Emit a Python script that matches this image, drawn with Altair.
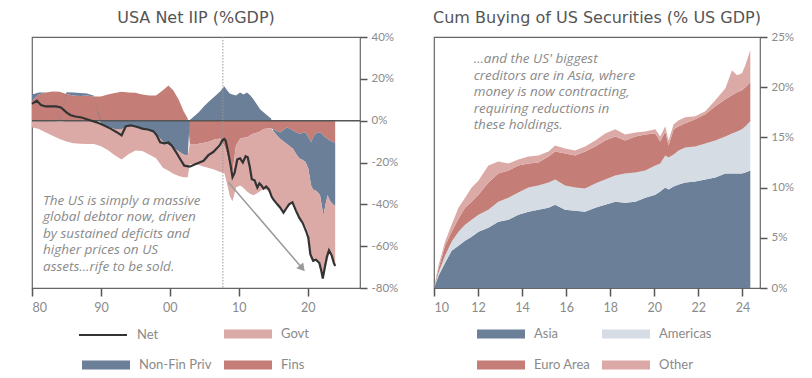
import altair as alt
import pandas as pd

# ---------------- Left panel: USA Net IIP (% GDP) ----------------
comp_years = [1980.0, 1981.0, 1982.0, 1983.0, 1984.0, 1985.0, 1986.0, 1987.0, 1988.0, 1989.0,
              1990.0, 1991.0, 1992.0, 1993.0, 1994.0, 1995.0, 1996.0, 1997.0, 1998.0, 1999.0,
              1999.8, 2000.5, 2001.3, 2002.0, 2002.6, 2002.9,
              2003.5, 2004.2, 2005.0, 2005.8, 2006.5, 2007.3, 2007.9,
              2008.3, 2008.7, 2009.1, 2009.6,
              2010.2, 2010.7, 2011.2, 2011.7,
              2012.1, 2012.6, 2013.1, 2013.6,
              2014.2, 2014.7, 2015.0, 2015.5,
              2016.0, 2016.5, 2017.0, 2017.5, 2017.9,
              2018.4, 2018.9, 2019.3, 2019.7,
              2020.1, 2020.5, 2020.8,
              2021.1, 2021.5, 2021.8,
              2022.1, 2022.3, 2022.6, 2022.9,
              2023.2, 2023.5, 2023.8, 2024.0]

fins = [9.5, 12.5, 13.5, 14.0, 13.8, 12.8, 12.0, 11.8, 12.0, 11.6,
        11.5, 12.5, 13.2, 13.8, 13.5, 13.3, 12.5, 12.0, 12.0, 14.5,
        16.8, 14.5, 10.0, 4.5, 1.0, -11.0,
        -11.5, -11.0, -10.5, -10.0, -9.0, -8.5, -12.0,
        -16.0, -22.0, -24.5, -12.0,
        -8.7, -8.2, -7.9, -7.0,
        -6.3, -5.8, -5.2, -4.0,
        -3.7, -3.8, -4.0, -4.8,
        -5.6, -4.5, -3.2, -4.0, -4.8,
        -5.8, -6.3, -5.8, -5.6,
        -7.9, -10.3, -8.0,
        -6.3, -5.8, -5.6,
        -6.5, -7.1, -8.0, -8.7,
        -9.5, -10.0, -10.3, -10.3]

nonfin = [3.0, 1.0, 0.0, 0.0, -0.6, 0.8, 1.5, 1.4, 1.0, 0.3,
          -1.5, -3.0, -4.0, -4.0, -3.0, -2.8, -3.5, -5.0, -6.5, -10.0,
          -11.8, -13.0, -14.7, -16.2, -16.8, 0.3,
          2.0, 4.0, 7.0, 9.5, 11.5, 14.0, 16.5,
          14.5, 13.0, 12.5, 12.0,
          13.5, 12.5, 13.5, 12.0,
          10.3, 8.0, 5.5, 4.0,
          2.4, 1.0, -0.8, -2.0,
          -3.1, -5.5, -7.9, -8.5, -8.7,
          -10.5, -12.0, -13.0, -14.2,
          -15.1, -20.7, -25.0,
          -27.0, -28.5, -30.1,
          -35.0, -38.1, -32.0, -27.0,
          -28.6, -29.4, -30.0, -30.5]

govt = [-3.2, -4.0, -5.6, -7.2, -8.2, -10.0, -10.8, -11.0, -11.1, -11.1,
        -10.7, -11.0, -12.5, -14.6, -13.0, -11.5, -11.0, -11.2, -11.5, -12.5,
        -12.2, -12.4, -11.8, -10.8, -10.2, -9.8,
        -9.3, -10.2, -11.5, -12.7, -14.5, -16.0, -13.0,
        -14.0, -14.0, -14.0, -20.0,
        -22.3, -24.0, -26.0, -28.0,
        -29.4, -29.0, -28.5, -28.5,
        -29.6, -32.0, -32.5, -32.5,
        -32.6, -33.0, -30.9, -27.5, -25.4,
        -27.0, -28.5, -29.5, -30.5,
        -31.0, -33.0, -33.5,
        -33.4, -32.5, -31.8,
        -30.5, -29.4, -30.5, -31.0,
        -24.5, -25.0, -27.0, -28.2]

net_years = [1980.0, 1980.7, 1981.3, 1982.0, 1983.5, 1984.2, 1985.0, 1985.6, 1986.3, 1987.2,
             1988.3, 1989.4, 1990.4, 1991.4, 1992.3, 1993.0, 1993.6, 1994.3, 1995.3, 1996.0,
             1996.8, 1997.6, 1998.1, 1998.6, 1999.2, 1999.8, 2000.3, 2000.9, 2001.5, 2002.1,
             2002.9, 2003.6, 2004.3, 2004.9, 2005.6, 2006.3, 2006.9, 2007.3, 2007.6, 2007.9,
             2008.1, 2008.4, 2008.8, 2009.1, 2009.4, 2009.8, 2010.2, 2010.6, 2011.0, 2011.3,
             2011.6, 2011.9, 2012.3, 2012.7, 2013.0, 2013.3, 2013.6, 2014.0, 2014.4, 2014.8,
             2015.1, 2015.6, 2016.0, 2016.5, 2016.9, 2017.3, 2017.8, 2018.3, 2018.8, 2019.3,
             2019.8, 2020.1, 2020.4, 2020.8, 2021.2, 2021.7, 2022.0, 2022.2, 2022.5, 2022.8,
             2023.1, 2023.5, 2023.8, 2024.0]
net_vals = [8.0, 9.6, 7.5, 6.8, 6.8, 6.3, 4.0, 2.6, 2.0, 1.5,
            0.3, -0.8, -2.2, -3.8, -5.5, -7.0, -2.8, -2.2, -3.0, -3.8,
            -4.2, -5.0, -7.0, -10.3, -10.8, -10.4, -12.0, -15.0, -18.3, -21.5,
            -22.0, -21.0, -20.0, -19.2, -16.5, -15.0, -13.0, -11.5, -9.5, -8.8,
            -9.5, -14.0, -21.0, -27.0, -25.0, -18.5, -18.0, -20.0, -17.0, -17.5,
            -22.0, -28.0, -28.5, -32.0, -30.0, -31.0, -32.5, -31.5, -33.0, -36.5,
            -38.0, -40.0, -41.5, -44.0, -42.0, -40.0, -39.0, -43.0, -46.5, -49.0,
            -53.0, -56.0, -64.0, -67.0, -66.5, -68.0, -72.0, -75.5, -70.0, -65.0,
            -62.0, -64.5, -68.0, -69.5]

left_series = ["Fins", "Non-Fin Priv", "Govt"]
left_legend_order = ["Net", "Govt", "Non-Fin Priv", "Fins"]
left_colors = ["rgba(0,0,0,0)", "#dcaaa6", "#6b7f99", "#c47e77"]
left_ticks = [1980, 1990, 2000, 2010, 2020]
left_yticks = [-80, -60, -40, -20, 0, 20, 40]
crisis_year = [2007.7]
left_note = ("The US is simply a massive\nglobal debtor now, driven\nby sustained deficits and\n"
             "higher prices on US\nassets\u2026rife to be sold.")

# ---------------- Right panel: Cum buying of US securities ----------------
cb_years = [2010.00, 2010.20, 2010.50, 2010.80, 2011.11, 2011.41, 2011.71, 2012.02, 2012.47, 2012.92,
            2013.38, 2013.83, 2014.29, 2014.74, 2015.20, 2015.50, 2015.95, 2016.41, 2016.86, 2017.32,
            2017.77, 2018.23, 2018.68, 2019.14, 2019.59, 2020.05, 2020.27, 2020.50, 2020.65, 2020.88,
            2021.11, 2021.41, 2021.86, 2022.32, 2022.77, 2023.23, 2023.53, 2023.76, 2023.98, 2024.14,
            2024.36]
asia = [0.0, 1.2, 2.5, 3.7, 4.2, 4.7, 5.1, 5.6, 6.0, 6.6,
        6.8, 7.3, 7.6, 7.8, 8.0, 8.3, 7.8, 7.7, 7.6, 8.0,
        8.3, 8.6, 8.5, 8.6, 9.0, 9.3, 9.6, 10.0, 9.8, 10.1,
        10.3, 10.5, 10.6, 10.8, 11.0, 11.4, 11.4, 11.4, 11.4, 11.5,
        11.7]
americas = [0.0, 0.3, 0.7, 0.9, 1.4, 1.6, 1.7, 1.7, 1.8, 2.0,
            2.2, 2.2, 2.4, 2.4, 2.5, 2.5, 2.4, 2.3, 2.3, 2.4,
            2.5, 2.6, 2.9, 2.9, 2.7, 2.9, 2.8, 3.2, 3.2, 3.2,
            3.4, 3.5, 3.5, 3.6, 3.7, 3.7, 4.0, 4.2, 4.4, 4.6,
            4.9]
euro = [0.0, 0.4, 1.0, 1.0, 1.3, 1.7, 1.8, 2.0, 2.7, 2.8,
        2.7, 2.7, 2.4, 2.3, 2.6, 2.8, 3.2, 3.2, 3.7, 3.7,
        3.9, 3.9, 3.3, 3.6, 3.6, 3.2, 2.2, 2.4, 1.2, 2.5,
        2.4, 2.4, 2.7, 2.9, 3.4, 3.7, 3.8, 3.9, 3.9, 3.9,
        3.9]
other = [0.0, 0.3, 0.4, 0.7, 1.1, 1.0, 1.4, 1.4, 1.7, 1.2,
         0.7, 0.6, 0.7, 0.7, 0.5, 0.6, 0.5, 0.5, 0.5, 0.6,
         0.7, 0.7, 0.6, 0.4, 0.3, 0.4, 0.5, 0.5, 0.5, 0.5,
         0.6, 0.6, 0.3, 0.3, 0.6, 1.1, 2.5, 1.7, 1.7, 2.2,
         3.2]
right_series = ["Asia", "Americas", "Euro Area", "Other"]
right_colors = ["#6b7f99", "#d5dce3", "#c47e77", "#dcaaa6"]
right_ticks = [2010, 2012, 2014, 2016, 2018, 2020, 2022, 2024]
right_yticks = [0, 5, 10, 15, 20, 25]
right_note = ("\u2026and the US' biggest\ncreditors are in Asia, where\nmoney is now contracting,\n"
              "requiring reductions in\nthese holdings.")

# ---------------- styling ----------------
RECT = "M-1,-0.19H1V0.19H-1Z"
LBL = "#8a8a8a"
FONT = "Lato"
NOTE_FONT = "Open Sans"
TITLE_FONT = "DejaVu Sans"
YEAR_LABEL = "substring(toString(datum.value), 2, 4)"
PCT_LABEL = "datum.value + '%'"


def legend(**kw):
    base = dict(orient="none", title=None, padding=0, labelFont=FONT, labelFontSize=13,
                labelColor=LBL, labelOffset=9, symbolSize=2304, legendX=50, legendY=273,
                direction="horizontal")
    base.update(kw)
    return alt.Legend(**base)


# ----- left chart -----
n = len(comp_years)
comp_df = pd.DataFrame({
    "year": comp_years * 3,
    "series": ["Fins"] * n + ["Non-Fin Priv"] * n + ["Govt"] * n,
    "value": fins + nonfin + govt,
    "rank": [0] * n + [1] * n + [2] * n,
})
net_df = pd.DataFrame({"year": net_years, "value": net_vals, "series": ["Net"] * len(net_years)})

lx = alt.X("year:Q", title=None,
           scale=alt.Scale(domain=[1980, 2027.6], nice=False, zero=False),
           axis=alt.Axis(values=left_ticks, labelExpr=YEAR_LABEL, tickSize=8, labelFontSize=12.5,
                         labelPadding=5))
ly = alt.Y("value:Q", title=None, stack="zero",
           scale=alt.Scale(domain=[-80, 40], nice=False),
           axis=alt.Axis(orient="right", values=left_yticks, labelExpr=PCT_LABEL, tickSize=7,
                         labelFontSize=11.5, labelPadding=4))

left_areas = alt.Chart(comp_df).mark_area().encode(
    x=lx, y=ly,
    fill=alt.Fill("series:N", scale=alt.Scale(domain=left_legend_order, range=left_colors),
                  legend=legend(columns=2, columnPadding=12, rowPadding=0, symbolType=RECT,
                                symbolStrokeWidth=0,
                                labelExpr="datum.label == 'Net' ? '' : datum.label")),
    detail="series:N",
    order=alt.Order("rank:Q"),
)

zero_rule = alt.Chart(pd.DataFrame({"v": [0]})).mark_rule(color="#555", strokeWidth=1.5).encode(
    y=alt.Y("v:Q"))
crisis_rule = alt.Chart(pd.DataFrame({"yr": crisis_year})).mark_rule(
    color="#999", strokeWidth=1, strokeDash=[1.5, 1.5]).encode(x=alt.X("yr:Q"))

net_line = alt.Chart(net_df).mark_line(strokeWidth=2.2).encode(
    x=alt.X("year:Q"), y=alt.Y("value:Q"),
    stroke=alt.Stroke("series:N", scale=alt.Scale(domain=["Net"], range=["#333333"]),
                      legend=legend(symbolType="stroke", symbolStrokeWidth=2, legendX=46)),
)

arrow_df = pd.DataFrame({"x": [2008.5], "y": [-29.4], "x2": [2019.1], "y2": [-70.1]})
arrow = alt.Chart(arrow_df).mark_rule(color="#9a9a9a", strokeWidth=1.5).encode(
    x="x:Q", y="y:Q", x2="x2:Q", y2="y2:Q")
arrow_head = alt.Chart(arrow_df).mark_point(shape="triangle", filled=True, size=80, angle=140,
                                            color="#9a9a9a", opacity=1).encode(
    x="x2:Q", y="y2:Q")

left_text = alt.Chart(pd.DataFrame({"x": [1981.6], "y": [-35.0], "t": [left_note]})).mark_text(
    lineBreak="\n", align="left", baseline="top", font=NOTE_FONT, fontStyle="italic", fontSize=13.5,
    color="#8a8a8a", lineHeight=16.5).encode(x="x:Q", y="y:Q", text="t:N")

left = alt.layer(left_areas, zero_rule, crisis_rule, arrow, arrow_head, net_line, left_text).properties(
    width=328, height=251,
    title=alt.TitleParams("USA Net IIP (%GDP)", font=TITLE_FONT, fontSize=16, fontWeight="normal",
                          color="#555", offset=5, anchor="middle"),
)

# ----- right chart -----
m = len(cb_years)
cb_df = pd.DataFrame({
    "year": cb_years * 4,
    "series": ["Asia"] * m + ["Americas"] * m + ["Euro Area"] * m + ["Other"] * m,
    "value": asia + americas + euro + other,
    "rank": [0] * m + [1] * m + [2] * m + [3] * m,
})

rx = alt.X("year:Q", title=None,
           scale=alt.Scale(domain=[2010, 2024.8], nice=False, zero=False),
           axis=alt.Axis(values=right_ticks, labelExpr=YEAR_LABEL, tickSize=8, labelFontSize=12.5,
                         labelPadding=5))
ry = alt.Y("value:Q", title=None, stack="zero",
           scale=alt.Scale(domain=[0, 25], nice=False),
           axis=alt.Axis(orient="right", values=right_yticks, labelExpr=PCT_LABEL, tickSize=7,
                         labelFontSize=11.5, labelPadding=4))

right_areas = alt.Chart(cb_df).mark_area().encode(
    x=rx, y=ry,
    fill=alt.Fill("series:N", scale=alt.Scale(domain=right_series, range=right_colors),
                  legend=legend(columns=2, columnPadding=11, rowPadding=0, symbolType=RECT,
                                symbolStrokeWidth=0, legendX=43)),
    detail="series:N",
    order=alt.Order("rank:Q"),
)

right_text = alt.Chart(pd.DataFrame({"x": [2011.8], "y": [23.5], "t": [right_note]})).mark_text(
    lineBreak="\n", align="left", baseline="top", font=NOTE_FONT, fontStyle="italic", fontSize=13.5,
    color="#8a8a8a", lineHeight=16.5).encode(x="x:Q", y="y:Q", text="t:N")

right = alt.layer(right_areas, right_text).properties(
    width=326, height=251,
    title=alt.TitleParams("Cum Buying of US Securities (% US GDP)", font=TITLE_FONT, fontSize=16,
                          fontWeight="normal", color="#555", offset=5, anchor="middle"),
)

chart = alt.hconcat(left, right, spacing=33).resolve_scale(
    fill="independent", stroke="independent"
).resolve_legend(
    fill="independent", stroke="independent"
).properties(
    padding={"left": 19, "top": 1, "right": 0, "bottom": 0}
).configure_view(stroke="#666", strokeWidth=1.2).configure_axis(
    labelFont=FONT, labelColor=LBL, tickColor="#555", tickWidth=1.5, domain=False, grid=False
)

chart.save("out.html", embed_options={"renderer": "svg", "actions": False})
